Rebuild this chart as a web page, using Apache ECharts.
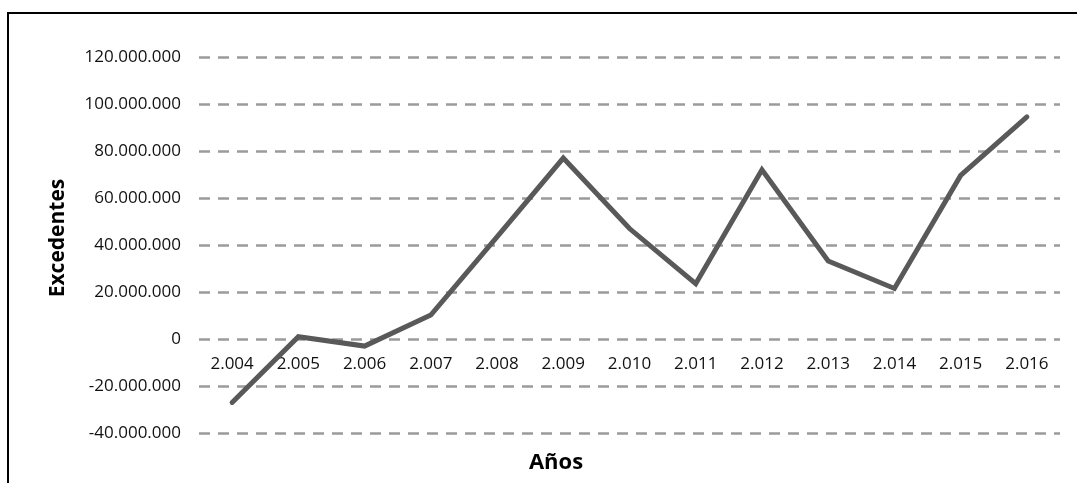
<!DOCTYPE html>
<html>
<head>
<meta charset="utf-8">
<script src="https://cdn.jsdelivr.net/npm/echarts@6/dist/echarts.min.js"></script>
<style>
html,body{margin:0;padding:0;background:#fff;}
#frame{position:absolute;left:7px;top:12px;width:2000px;height:2000px;border-left:2px solid #000;border-top:2px solid #000;}
#chart{position:absolute;left:0;top:0;width:1077px;height:483px;}
</style>
</head>
<body>
<div id="frame"></div>
<div id="chart"></div>
<script>
const categories = ['2.004','2.005','2.006','2.007','2.008','2.009','2.010','2.011','2.012','2.013','2.014','2.015','2.016'];
const excedentes = [-27000000, 1000000, -3000000, 10200000, 43500000, 77000000, 47000000, 23500000, 72000000, 33200000, 21500000, 69600000, 94500000];
const yMin = -40000000, yMax = 120000000, yStep = 20000000;
const xTitle = 'Años';
const yTitle = 'Excedentes';

function fmt(v){
  const neg = v < 0;
  let s = Math.abs(v).toString().replace(/\B(?=(\d{3})+(?!\d))/g, '.');
  return (neg ? '-' : '') + s;
}

const gridTop = 57, gridBottomPx = 433;
const zeroFrac = (yMax - 0) / (yMax - yMin);
const zeroOffset = -Math.round((gridBottomPx - gridTop) * (1 - zeroFrac));

const chart = echarts.init(document.getElementById('chart'), null, {renderer:'canvas'});
const FONT = 'Open Sans';
chart.setOption({
  backgroundColor: 'transparent',
  animation: false,
  grid: {left: 199, right: 17, top: gridTop, bottom: 483 - gridBottomPx, containLabel: false},
  xAxis: {
    type: 'category',
    data: categories,
    boundaryGap: true,
    offset: zeroOffset,
    axisLine: {show: false, onZero: false},
    axisTick: {show: false},
    axisLabel: {color: '#111', fontSize: 17, fontFamily: FONT, margin: 17}
  },
  yAxis: {
    type: 'value',
    min: yMin, max: yMax, interval: yStep,
    axisLine: {show: false},
    axisTick: {show: false},
    axisLabel: {color: '#111', fontSize: 17, fontFamily: FONT, margin: 18, formatter: fmt},
    splitLine: {show: true, lineStyle: {color: '#9b9b9b', width: 2.5, type: [11, 8]}}
  },
  series: [{
    type: 'line',
    data: excedentes,
    symbol: 'none',
    lineStyle: {color: '#595959', width: 5, cap: 'round', join: 'miter'}
  }],
  graphic: [
    {type: 'text', x: 556, y: 463, style: {text: xTitle, fill: '#000', font: 'bold 22px "Open Sans"', textAlign: 'center', textVerticalAlign: 'middle'}},
    {type: 'text', x: 58, y: 238, rotation: Math.PI/2, style: {text: yTitle, fill: '#000', font: 'bold 21px "Open Sans"', textAlign: 'center', textVerticalAlign: 'middle'}}
  ]
});
</script>
</body>
</html>
